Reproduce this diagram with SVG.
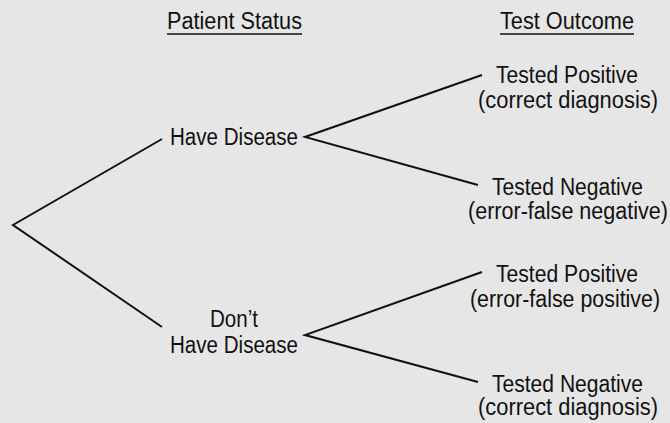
<svg xmlns="http://www.w3.org/2000/svg" width="670" height="423" viewBox="0 0 670 423">
<style>
text{font-family:"Liberation Sans",Arial,sans-serif;font-size:23px;fill:#111;text-anchor:middle}
.c{fill:none;stroke:#111;stroke-width:2}
.u{stroke:#111;stroke-width:1.6}
</style>
<rect width="670" height="423" fill="#e6e6e6"/>
<g id="headers">
<text x="234.5" y="29" textLength="135" lengthAdjust="spacingAndGlyphs">Patient Status</text>
<line class="u" x1="167" y1="34" x2="302" y2="34"/>
<text x="567" y="29" textLength="134" lengthAdjust="spacingAndGlyphs">Test Outcome</text>
<line class="u" x1="500" y1="34" x2="634" y2="34"/>
</g>
<g id="connectors">
<polyline class="c" points="162,139 13,225 162,327"/>
<polyline class="c" points="482,75 305,137 478,185"/>
<polyline class="c" points="482,272 305,335 478,382"/>
</g>
<g id="have"><text x="234" y="145" textLength="128" lengthAdjust="spacingAndGlyphs">Have Disease</text></g>
<g id="dont"><text x="234" y="327" textLength="48" lengthAdjust="spacingAndGlyphs">Don’t</text><text x="234" y="353" textLength="128" lengthAdjust="spacingAndGlyphs">Have Disease</text></g>
<g id="hpos"><text x="567" y="83" textLength="142" lengthAdjust="spacingAndGlyphs">Tested Positive</text><text x="568" y="108" textLength="180" lengthAdjust="spacingAndGlyphs">(correct diagnosis)</text></g>
<g id="hneg"><text x="567.5" y="195" textLength="151" lengthAdjust="spacingAndGlyphs">Tested Negative</text><text x="568" y="219" textLength="200" lengthAdjust="spacingAndGlyphs">(error-false negative)</text></g>
<g id="dpos"><text x="567" y="282" textLength="142" lengthAdjust="spacingAndGlyphs">Tested Positive</text><text x="565" y="307" textLength="190" lengthAdjust="spacingAndGlyphs">(error-false positive)</text></g>
<g id="dneg"><text x="567.5" y="392" textLength="151" lengthAdjust="spacingAndGlyphs">Tested Negative</text><text x="568" y="415" textLength="180" lengthAdjust="spacingAndGlyphs">(correct diagnosis)</text></g>
</svg>
